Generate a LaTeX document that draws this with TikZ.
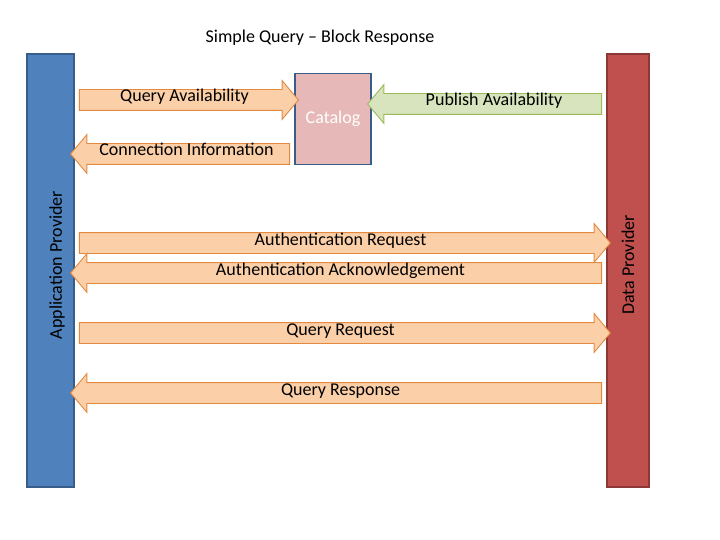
\documentclass[tikz,border=0pt]{standalone}
\usepackage{fontspec}
\setmainfont{Carlito}
\usetikzlibrary{shapes.arrows}
\definecolor{appblue}{HTML}{4F81BD}
\definecolor{appedge}{HTML}{385D8A}
\definecolor{datared}{HTML}{C0504D}
\definecolor{dataedge}{HTML}{8C3836}
\definecolor{catfill}{HTML}{E6B9B8}
\definecolor{msgfill}{HTML}{FBCFA8}
\definecolor{msgedge}{HTML}{E38A40}
\definecolor{pubfill}{HTML}{D7E4BD}
\definecolor{pubedge}{HTML}{9BBB59}
\tikzset{
  big/.style={font=\fontsize{18}{20}\selectfont},
  msg/.style={single arrow, draw=msgedge, line width=0.9pt, fill=msgfill, minimum width=38pt,
    single arrow head extend=9pt, single arrow tip angle=100, inner xsep=0pt,
    inner ysep=4pt, text height=8pt, text depth=4pt, big},
  back/.style={shape border rotate=180},
  bar/.style={line width=1.5pt, minimum width=47pt, minimum height=433pt}
}
\begin{document}
\begin{tikzpicture}[x=1pt, y=-1pt]
		\useasboundingbox (0,0) rectangle (720,540);
		\node[big] (title) at (320,38) {Simple Query -- Block Response};

		\node[bar, draw=appedge, fill=appblue] (app) at (50.5,270.5) {};
		\node[bar, draw=dataedge, fill=datared, minimum width=42pt] (data) at (628,270.5) {};
		\node[rotate=90, big] (applabel) at (57,265) {Application Provider};
		\node[rotate=90, big] (datalabel) at (628,265) {Data Provider};

		\node[draw=appedge, line width=1.8pt, fill=catfill, minimum width=76pt, minimum height=91pt,
			text=white, big] (cat) at (333,119) {\raisebox{-2pt}{Catalog}};

		\node[msg, minimum height=219pt] (qavail) at (184.5,100) {Query Availability\hspace{8pt}};
		\node[msg, back, draw=pubedge, fill=pubfill, minimum height=234pt] (pubavail) at (489,104) {\hspace{10pt}Publish Availability};
		\node[msg, back, minimum height=219pt] (conninfo) at (184.5,154) {\hspace{4pt}Connection Information};
		\node[msg, minimum height=531pt] (authreq) at (340.5,243) {Authentication Request\hspace{14pt}};
		\node[msg, back, minimum height=531pt] (authack) at (340.5,273) {Authentication Acknowledgement};
		\node[msg, minimum height=531pt] (qreq) at (340.5,333) {Query Request\hspace{10pt}};
		\node[msg, back, minimum height=531pt] (qresp) at (340.5,393) {Query Response};
	\end{tikzpicture}
\end{document}
